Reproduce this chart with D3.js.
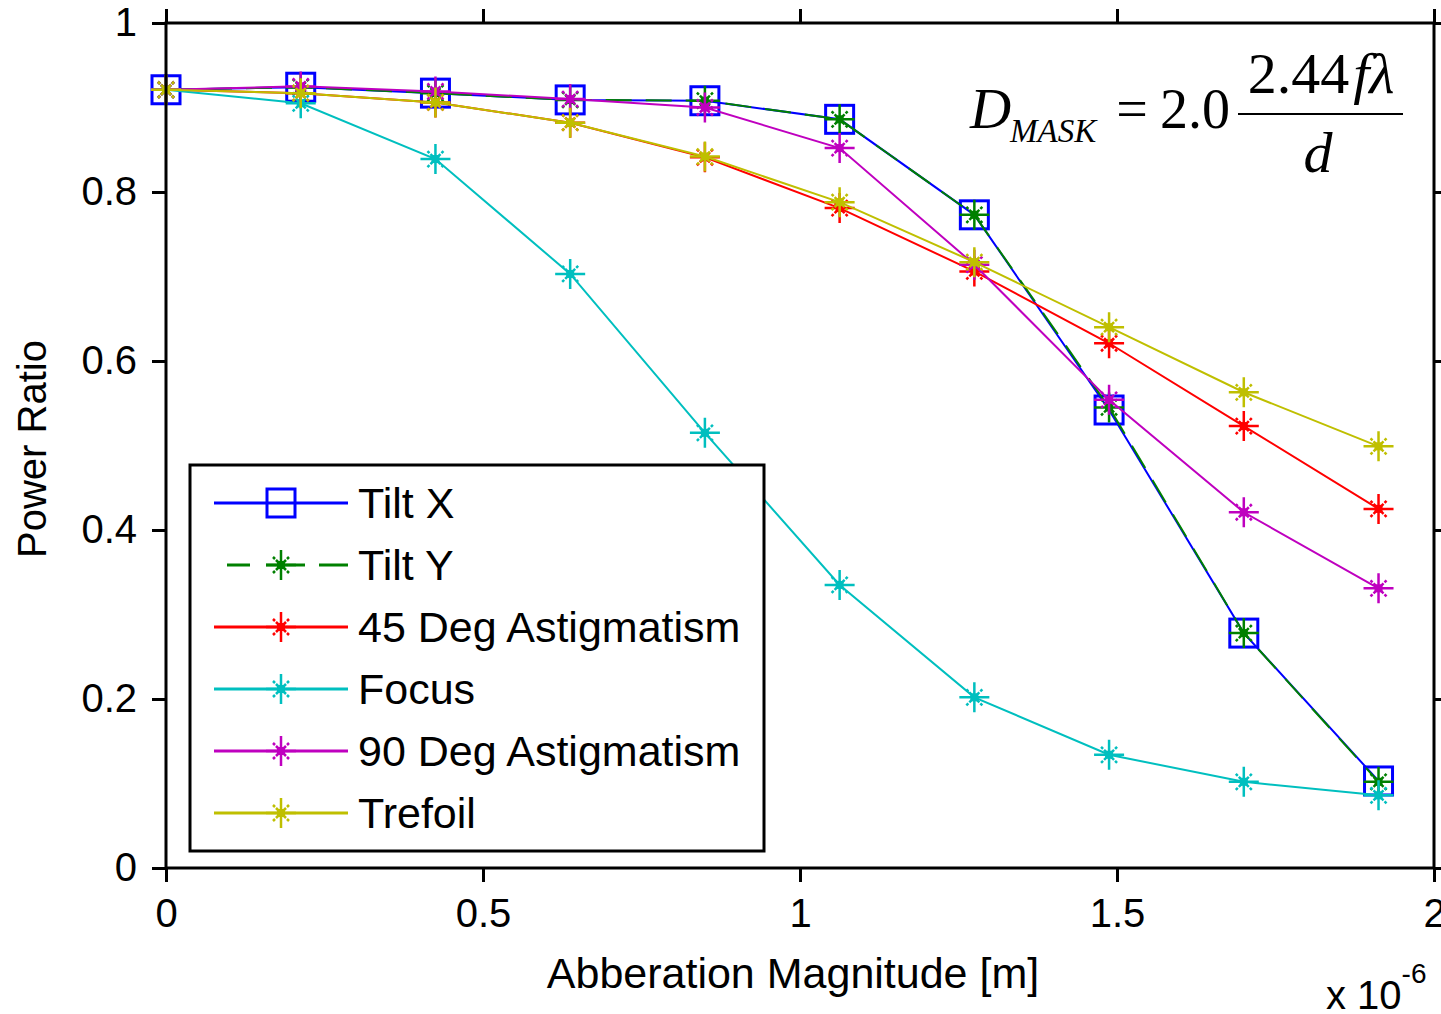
<!DOCTYPE html>
<html>
<head>
<meta charset="utf-8">
<script src="https://cdn.jsdelivr.net/npm/d3@7"></script>
<style>
  body { margin: 0; background: #fff; }
  svg { display: block; }
  text { font-family: "Liberation Sans", Arial, sans-serif; fill: #000; }
  .math { font-family: "Liberation Serif", "Times New Roman", serif; }
</style>
</head>
<body>
<script>
(function (d3) {
    'use strict';

    // aberration magnitude in units of 1e-6 m
    var xValues = [0, 0.2125, 0.425, 0.6375, 0.85, 1.0625, 1.275, 1.4875, 1.7, 1.9125];

    var tiltX   = [0.921, 0.924, 0.917, 0.909, 0.908, 0.886, 0.773, 0.542, 0.278, 0.103];
    var tiltY   = [0.921, 0.924, 0.917, 0.909, 0.908, 0.886, 0.773, 0.545, 0.278, 0.102];
    var astig45 = [0.921, 0.917, 0.906, 0.882, 0.841, 0.781, 0.706, 0.621, 0.523, 0.425];
    var focus   = [0.921, 0.905, 0.839, 0.703, 0.515, 0.335, 0.202, 0.134, 0.102, 0.086];
    var astig90 = [0.921, 0.925, 0.919, 0.910, 0.900, 0.852, 0.714, 0.554, 0.421, 0.331];
    var trefoil = [0.921, 0.917, 0.906, 0.882, 0.842, 0.788, 0.717, 0.640, 0.563, 0.499];

    var seriesNames = ["Tilt X", "Tilt Y", "45 Deg Astigmatism", "Focus", "90 Deg Astigmatism", "Trefoil"];
    var seriesValues = [tiltX, tiltY, astig45, focus, astig90, trefoil];
    var seriesColors = ["#0000ff", "#008000", "#ff0000", "#00bfbf", "#bf00bf", "#bfbf00"];
    var seriesMarkers = ["square", "star", "star", "star", "star", "star"];
    var seriesDashes = [null, "26,14", null, null, null, null];

    var xTicks = [0, 0.5, 1, 1.5, 2];
    var yTicks = [0, 0.2, 0.4, 0.6, 0.8, 1];

    var W = 1441, H = 1014;
    var left = 166, right = 1434, top = 23, bottom = 868;

    var x = d3.scaleLinear().domain([0, 2]).range([left, right]);
    var y = d3.scaleLinear().domain([0, 1]).range([bottom, top]);

    var svg = d3.select("body").append("svg")
        .attr("width", W)
        .attr("height", H);

    function drawMarker(g, type, color) {
        if (type === "square") {
            g.append("rect")
                .attr("x", -14).attr("y", -14)
                .attr("width", 28).attr("height", 28)
                .attr("fill", "none")
                .attr("stroke", color)
                .attr("stroke-width", 3);
            return;
        }
        g.append("path")
            .attr("d", "M-15,0H15M0,-15V15")
            .attr("stroke", color)
            .attr("stroke-width", 2.5)
            .attr("fill", "none");
        g.append("path")
            .attr("d", "M-5,-5L5,5M-5,5L5,-5M-8,-8L-6,-6M8,8L6,6M-8,8L-6,6M8,-8L6,-6")
            .attr("stroke", color)
            .attr("stroke-width", 2.5)
            .attr("fill", "none");
        g.append("rect")
            .attr("x", -4).attr("y", -4)
            .attr("width", 8).attr("height", 8)
            .attr("fill", color);
    }

    // series
    var line = d3.line()
        .x(function (d, i) { return x(xValues[i]); })
        .y(function (d) { return y(d); });

    seriesValues.forEach(function (vals, k) {
        var g = svg.append("g").attr("class", "series");
        g.append("path")
            .datum(vals)
            .attr("d", line)
            .attr("fill", "none")
            .attr("stroke", seriesColors[k])
            .attr("stroke-width", 2)
            .attr("stroke-dasharray", seriesDashes[k]);
        g.selectAll("g.mk")
            .data(vals)
            .enter().append("g")
            .attr("class", "mk")
            .attr("transform", function (d, i) { return "translate(" + x(xValues[i]) + "," + y(d) + ")"; })
            .each(function () { drawMarker(d3.select(this), seriesMarkers[k], seriesColors[k]); });
    });

    // axes
    var fontSize = 40;
    var xAxis = svg.append("g")
        .attr("transform", "translate(0," + bottom + ")")
        .call(d3.axisBottom(x).tickValues(xTicks).tickSize(14).tickSizeOuter(0).tickPadding(17)
            .tickFormat(function (d) { return d; }));
    var xAxisTop = svg.append("g")
        .attr("transform", "translate(0," + top + ")")
        .call(d3.axisTop(x).tickValues(xTicks).tickSize(14).tickSizeOuter(0).tickFormat(""));
    var yAxis = svg.append("g")
        .attr("transform", "translate(" + left + ",0)")
        .call(d3.axisLeft(y).tickValues(yTicks).tickSize(14).tickSizeOuter(0).tickPadding(15)
            .tickFormat(function (d) { return d; }));
    var yAxisRight = svg.append("g")
        .attr("transform", "translate(" + right + ",0)")
        .call(d3.axisRight(y).tickValues(yTicks).tickSize(14).tickSizeOuter(0).tickFormat(""));

    [xAxis, xAxisTop, yAxis, yAxisRight].forEach(function (a) {
        a.select(".domain").remove();
        a.selectAll(".tick line").attr("stroke", "#000").attr("stroke-width", 3);
        a.selectAll(".tick text")
            .attr("font-size", fontSize)
            .attr("font-family", "'Liberation Sans', Arial, sans-serif")
            .attr("fill", "#000");
    });

    svg.append("rect")
        .attr("x", left).attr("y", top)
        .attr("width", right - left).attr("height", bottom - top)
        .attr("fill", "none")
        .attr("stroke", "#000")
        .attr("stroke-width", 3);

    // axis labels
    svg.append("text")
        .attr("x", 793)
        .attr("y", 988)
        .attr("text-anchor", "middle")
        .attr("font-size", 43)
        .text("Abberation Magnitude [m]");

    svg.append("text")
        .attr("transform", "translate(46,449) rotate(-90)")
        .attr("text-anchor", "middle")
        .attr("font-size", 40)
        .text("Power Ratio");

    var expo = svg.append("text")
        .attr("x", 1326)
        .attr("y", 1009)
        .attr("font-size", 40);
    expo.append("tspan").text("x 10");
    expo.append("tspan").attr("dy", -26).attr("font-size", 28).text("-6");

    // legend
    var legend = svg.append("g");
    legend.append("rect")
        .attr("x", 190).attr("y", 465)
        .attr("width", 574).attr("height", 386)
        .attr("fill", "#fff")
        .attr("stroke", "#000")
        .attr("stroke-width", 3);

    var item = legend.selectAll("g.item")
        .data(seriesNames)
        .enter().append("g")
        .attr("class", "item")
        .attr("transform", function (d, i) { return "translate(0," + (503 + i * 62) + ")"; });

    item.append("line")
        .attr("x1", 214).attr("x2", 348)
        .attr("stroke", function (d, i) { return seriesColors[i]; })
        .attr("stroke-width", 3)
        .attr("stroke-dasharray", function (d, i) { return i === 1 ? "0,13,23,16,39,14,40" : null; });

    item.append("g")
        .attr("transform", "translate(281,0)")
        .each(function (d, i) { drawMarker(d3.select(this), seriesMarkers[i], seriesColors[i]); });

    item.append("text")
        .attr("x", 358)
        .attr("y", 15)
        .attr("font-size", 43)
        .text(function (d) { return d; });

    // formula
    var f = svg.append("g").attr("class", "math");
    f.append("text").attr("class", "math")
        .attr("x", 970).attr("y", 128)
        .attr("font-size", 57).attr("font-style", "italic")
        .text("D");
    f.append("text").attr("class", "math")
        .attr("x", 1010).attr("y", 142)
        .attr("font-size", 33).attr("font-style", "italic")
        .text("MASK");
    f.append("text").attr("class", "math")
        .attr("x", 1132).attr("y", 128)
        .attr("text-anchor", "middle")
        .attr("font-size", 56)
        .text("=");
    f.append("text").attr("class", "math")
        .attr("x", 1160).attr("y", 128)
        .attr("font-size", 56)
        .text("2.0");
    f.append("line")
        .attr("x1", 1238).attr("x2", 1403)
        .attr("y1", 114).attr("y2", 114)
        .attr("stroke", "#000")
        .attr("stroke-width", 2);
    var num = f.append("text").attr("class", "math")
        .attr("x", 1321).attr("y", 93)
        .attr("text-anchor", "middle")
        .attr("font-size", 58);
    num.append("tspan").text("2.44");
    num.append("tspan").attr("font-style", "italic").attr("dx", 4).text("f\u03bb");
    f.append("text").attr("class", "math")
        .attr("x", 1318).attr("y", 172)
        .attr("text-anchor", "middle")
        .attr("font-size", 58).attr("font-style", "italic")
        .text("d");

})(d3);
</script>
</body>
</html>
